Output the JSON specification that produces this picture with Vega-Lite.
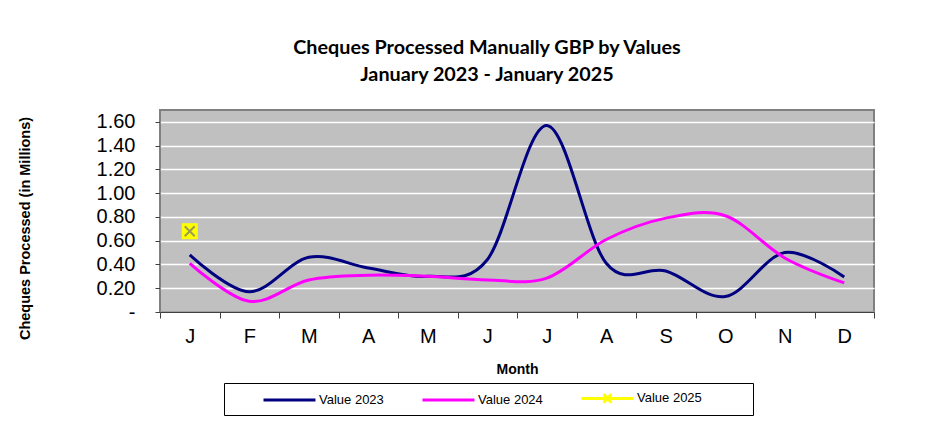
{
  "$schema": "https://vega.github.io/schema/vega-lite/v6.json",
  "autosize": {"type": "none"},
  "width": 714,
  "height": 202,
  "padding": {"left": 160, "top": 110, "right": 64, "bottom": 110},
  "background": "white",
  "title": {
    "text": ["Cheques Processed Manually GBP by Values", "January 2023 - January 2025"],
    "font": "Lato",
    "fontSize": 19.8,
    "fontWeight": "bold",
    "color": "black",
    "anchor": "middle",
    "dx": -30,
    "offset": 25,
    "lineHeight": 27
  },
  "config": {
    "view": {"fill": "#C0C0C0", "stroke": "#808080", "strokeWidth": 2},
    "axis": {"labelFont": "Liberation Sans", "titleFont": "Liberation Sans", "labelColor": "black", "titleColor": "black", "domainColor": "#404040", "tickColor": "#404040"}
  },
  "datasets": {
    "main": [
      {"m": 1, "series": "Value 2023", "value": 0.48},
      {"m": 2, "series": "Value 2023", "value": 0.17},
      {"m": 3, "series": "Value 2023", "value": 0.46},
      {"m": 4, "series": "Value 2023", "value": 0.37},
      {"m": 5, "series": "Value 2023", "value": 0.30},
      {"m": 6, "series": "Value 2023", "value": 0.44},
      {"m": 7, "series": "Value 2023", "value": 1.57},
      {"m": 8, "series": "Value 2023", "value": 0.41},
      {"m": 9, "series": "Value 2023", "value": 0.345},
      {"m": 10, "series": "Value 2023", "value": 0.13},
      {"m": 11, "series": "Value 2023", "value": 0.50},
      {"m": 12, "series": "Value 2023", "value": 0.295},
      {"m": 1, "series": "Value 2024", "value": 0.41},
      {"m": 2, "series": "Value 2024", "value": 0.09},
      {"m": 3, "series": "Value 2024", "value": 0.27},
      {"m": 4, "series": "Value 2024", "value": 0.31},
      {"m": 5, "series": "Value 2024", "value": 0.30},
      {"m": 6, "series": "Value 2024", "value": 0.27},
      {"m": 7, "series": "Value 2024", "value": 0.285},
      {"m": 8, "series": "Value 2024", "value": 0.61},
      {"m": 9, "series": "Value 2024", "value": 0.79},
      {"m": 10, "series": "Value 2024", "value": 0.81},
      {"m": 11, "series": "Value 2024", "value": 0.455},
      {"m": 12, "series": "Value 2024", "value": 0.245},
      {"m": 1, "series": "Value 2025", "value": 0.68}
    ]
  },
  "data": {"name": "main"},
  "encoding": {
    "x": {
      "field": "m",
      "type": "ordinal",
      "bandPosition": 0.5,
      "scale": {"type": "band", "domain": [1,2,3,4,5,6,7,8,9,10,11,12], "paddingInner": 0, "paddingOuter": 0},
      "axis": {
        "title": "Month",
        "titleFontSize": 14,
        "titleFontWeight": "bold",
        "titlePadding": 16,
        "titleX": 357,
        "labelExpr": "['J','F','M','A','M','J','J','A','S','O','N','D'][datum.value-1]",
        "labelFontSize": 20,
        "labelAngle": 0,
        "labelPadding": 8,
        "tickBand": "extent",
        "tickSize": 6,
        "domain": true,
        "grid": false
      }
    },
    "y": {
      "field": "value",
      "type": "quantitative",
      "scale": {"domain": [0, 1.7], "nice": false, "zero": true},
      "axis": {
        "title": "Cheques Processed (in Millions)",
        "titleFontSize": 14.5,
        "titleFontWeight": "bold",
        "titleX": -128,
        "titleY": 118,
        "values": [0, 0.2, 0.4, 0.6, 0.8, 1.0, 1.2, 1.4, 1.6],
        "labelExpr": "datum.value == 0 ? '-' : format(datum.value, '.2f')",
        "labelFontSize": 20,
        "labelPadding": 20,
        "tickSize": 5,
        "grid": true,
        "gridColor": "white",
        "gridWidth": 1.5,
        "domain": false
      }
    }
  },
  "layer": [
    {
      "mark": {"type": "line", "interpolate": "cardinal", "strokeWidth": 3},
      "encoding": {
        "color": {
          "field": "series",
          "type": "nominal",
          "scale": {"domain": ["Value 2023", "Value 2024", "Value 2025"], "range": ["#000080", "#FF00FF", "#FFFF00"]},
          "legend": {
            "title": " ",
            "titleOrient": "left",
            "titlePadding": 32,
            "titleFontSize": 13,
            "orient": "none",
            "legendX": 64,
            "legendY": 273,
            "direction": "horizontal",
            "columns": 3,
            "columnPadding": 32,
            "padding": 6,
            "strokeColor": "black",
            "fillColor": "white",
            "symbolType": "M-1,0L5.93,0",
            "symbolSize": 225,
            "symbolStrokeWidth": 3,
            "labelFont": "Liberation Sans",
            "labelFontSize": 13,
            "labelColor": "black",
            "labelOffset": 39,
            "encode": {
              "symbols": {
                "update": {
                  "shape": {"signal": "datum.label == 'Value 2025' ? 'M-1,0L5.93,0M1.95,-0.55L2.98,0.55M1.95,0.55L2.98,-0.55M20.2,0L20.2,0' : 'M-1,0L5.93,0'"}
                }
              }
            }
          }
        }
      }
    },
    {
      "transform": [{"filter": "datum.series == 'Value 2025'"}],
      "mark": {"type": "point", "shape": "square", "filled": true, "color": "#FFFF00", "size": 256, "opacity": 1}
    },
    {
      "transform": [{"filter": "datum.series == 'Value 2025'"}],
      "mark": {"type": "point", "shape": "M-1,-1L1,1M-1,1L1,-1", "filled": false, "color": "#9A9A50", "strokeWidth": 2, "size": 100, "opacity": 1}
    }
  ]
}
